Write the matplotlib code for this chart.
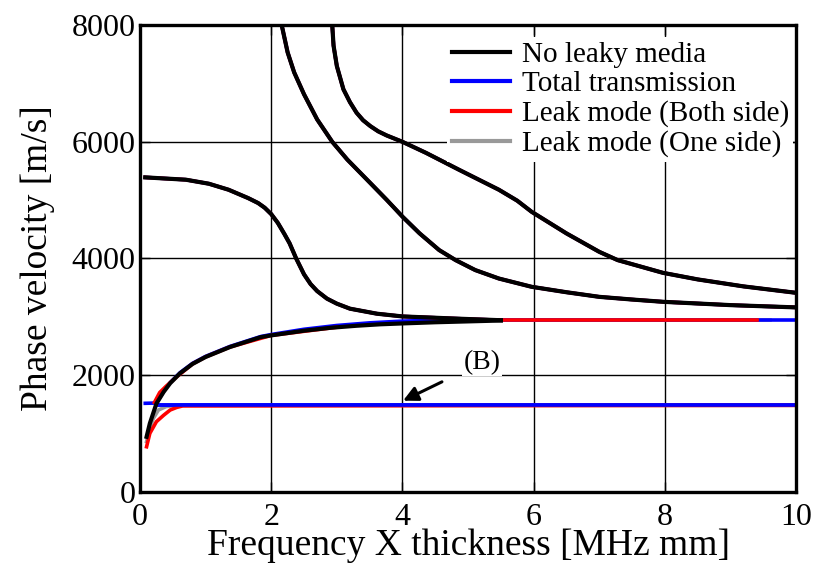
import numpy as np
import matplotlib.pyplot as plt

plt.rcParams['font.family'] = ['Liberation Serif', 'DejaVu Serif']

# --- dados ---
# modo A (desce de ~5400 até ~2940)
xA = [0.08, 0.7, 1.05, 1.35, 1.65, 1.8, 1.9, 2.0, 2.1, 2.2, 2.28, 2.38, 2.5,
      2.6, 2.7, 2.85, 3.0, 3.2, 3.61, 4.0, 4.86, 5.5]
vA = [5390, 5350, 5281, 5178, 5034, 4950, 4870, 4760, 4610, 4420, 4259, 4000,
      3727, 3560, 3440, 3310, 3224, 3138, 3052, 3005, 2966, 2940]
# cauda do modo A (coberta por vermelho/cinza/azul)
xA_tail_red = [5.5, 9.4]
vA_tail_red = [2940, 2940]
xA_tail_gray = [5.5, 9.6]
vA_tail_gray = [2940, 2940]
xA_tail_blue = [4.5, 10.0]
vA_tail_blue = [2940, 2940]

# modo B (sobe de ~900 até ~2940)
xB = [0.1, 0.15, 0.25, 0.36, 0.46, 0.61, 0.8, 1.0, 1.37, 1.84, 2.0, 2.5,
      2.9, 3.3, 3.66, 4.0, 4.5, 5.0, 5.5]
vB = [940, 1170, 1510, 1710, 1860, 2030, 2190, 2310, 2480, 2650, 2680, 2760,
      2810, 2845, 2870, 2885, 2905, 2920, 2935]

# transmissão total, ramo B
xB_blue = [0.08, 0.25, 0.36, 0.46, 0.61, 0.8, 1.0, 1.37, 1.84, 2.0, 2.5,
           3.0, 3.5, 4.0, 4.5]
vB_blue = [1515, 1520, 1720, 1870, 2040, 2200, 2320, 2490, 2660, 2695, 2785,
           2850, 2895, 2925, 2940]
# transmissão total, linha plana (B)
x_flat_blue = [0.27, 10.0]
v_flat_blue = [1480, 1480]

# modo com vazamento (dois lados), ramo inferior
xB_red = [0.1, 0.15, 0.25, 0.36, 0.46, 0.56, 0.65, 10.0]
vB_red = [770, 1000, 1200, 1310, 1400, 1445, 1470, 1480]
xB_red2 = [0.22, 0.3, 0.4, 0.55, 0.8, 1.0, 1.37, 2.0, 3.0]
vB_red2 = [1530, 1700, 1810, 1960, 2190, 2310, 2480, 2680, 2820]

# modo com vazamento (um lado)
xB_gray = [0.1, 0.15, 0.2, 0.28, 0.4, 0.55, 0.7, 10.0]
vB_gray = [860, 1080, 1250, 1400, 1460, 1475, 1480, 1480]

# modo C
xC = [2.16, 2.25, 2.35, 2.5, 2.7, 2.93, 3.16, 3.51, 3.76, 4.0, 4.26, 4.56,
      4.81, 5.11, 5.47, 5.97, 6.5, 7.0, 7.5, 7.97, 9.0, 10.0]
vC = [8000, 7534, 7190, 6815, 6384, 6000, 5695, 5293, 5005, 4717, 4431, 4143,
      3971, 3800, 3655, 3513, 3420, 3341, 3295, 3256, 3199, 3160]

# modo D
xD = [2.93, 2.95, 3.0, 3.1, 3.2, 3.3, 3.4, 3.51, 3.63, 3.76, 4.0, 4.36,
      4.86, 5.47, 5.75, 5.97, 6.5, 7.0, 7.28, 7.97, 8.5, 9.2, 10.0]
vD = [8000, 7650, 7300, 6902, 6680, 6500, 6370, 6270, 6180, 6109, 6000, 5810,
      5522, 5178, 4990, 4799, 4429, 4113, 3971, 3753, 3640, 3520, 3410]

xticks = [0, 2, 4, 6, 8, 10]
yticks = [0, 2000, 4000, 6000, 8000]

fig = plt.figure(figsize=(8.14, 5.73), dpi=100)
ax = fig.add_axes([0.172, 0.142, 0.806, 0.814])

lw = 2.6
# cinza (um lado)
ax.plot(xB_gray, vB_gray, color='#999999', lw=lw)
ax.plot(xA_tail_gray, vA_tail_gray, color='#999999', lw=lw)
# azul (transmissão total)
for xs, vs in [(xA, vA), (xC, vC), (xD, vD), (xB_blue, vB_blue),
               (x_flat_blue, v_flat_blue), (xA_tail_blue, vA_tail_blue)]:
    ax.plot(xs, vs, color='blue', lw=lw)
# vermelho (dois lados)
for xs, vs in [(xA, vA), (xC, vC), (xD, vD), (xB_red, vB_red),
               (xB_red2, vB_red2), (xA_tail_red, vA_tail_red)]:
    ax.plot(xs, vs, color='red', lw=lw)
ax.plot(x_flat_blue, v_flat_blue, color='blue', lw=lw)
# preto (sem meio com vazamento)
for xs, vs in [(xA, vA), (xB, vB), (xC, vC), (xD, vD)]:
    ax.plot(xs, vs, color='black', lw=3.0, solid_joinstyle='round')

# entradas da legenda
h1, = ax.plot([], [], color='black', lw=3.0, label='No leaky media')
h2, = ax.plot([], [], color='blue', lw=3.0, label='Total transmission')
h3, = ax.plot([], [], color='red', lw=3.0, label='Leak mode (Both side)')
h4, = ax.plot([], [], color='#999999', lw=3.0, label='Leak mode (One side)')
leg = ax.legend(handles=[h1, h2, h3, h4], loc='upper right',
                bbox_to_anchor=(0.996, 0.974), fontsize=21, frameon=True,
                framealpha=1, edgecolor='white', facecolor='white',
                handlelength=2.0, handletextpad=0.4, labelspacing=0.1,
                borderpad=0.15, borderaxespad=0.0, fancybox=False)
leg.get_frame().set_linewidth(0)

ax.annotate('(B)', xy=(4.01, 1560), xytext=(5.21, 2215),
            fontsize=20, ha='center', va='center',
            bbox=dict(facecolor='white', edgecolor='none', pad=1),
            arrowprops=dict(arrowstyle='-|>', color='black', lw=2.2,
                            mutation_scale=22, shrinkA=16, shrinkB=0))

ax.set_xlim(0, 10)
ax.set_ylim(0, 8000)
ax.set_xticks(xticks)
ax.set_yticks(yticks)
ax.tick_params(direction='in', length=7, width=1, labelsize=23,
               top=True, right=True)
ax.tick_params(axis='x', pad=8)
ax.tick_params(axis='y', pad=3)
ax.grid(True, color='black', lw=1.0)
for sp in ax.spines.values():
    sp.set_linewidth(2.4)

ax.set_xlabel('Frequency X thickness [MHz mm]', fontsize=27, labelpad=-2)
ax.set_ylabel('Phase velocity [m/s]', fontsize=27, labelpad=12)

fig.savefig('out.png', dpi=100)
